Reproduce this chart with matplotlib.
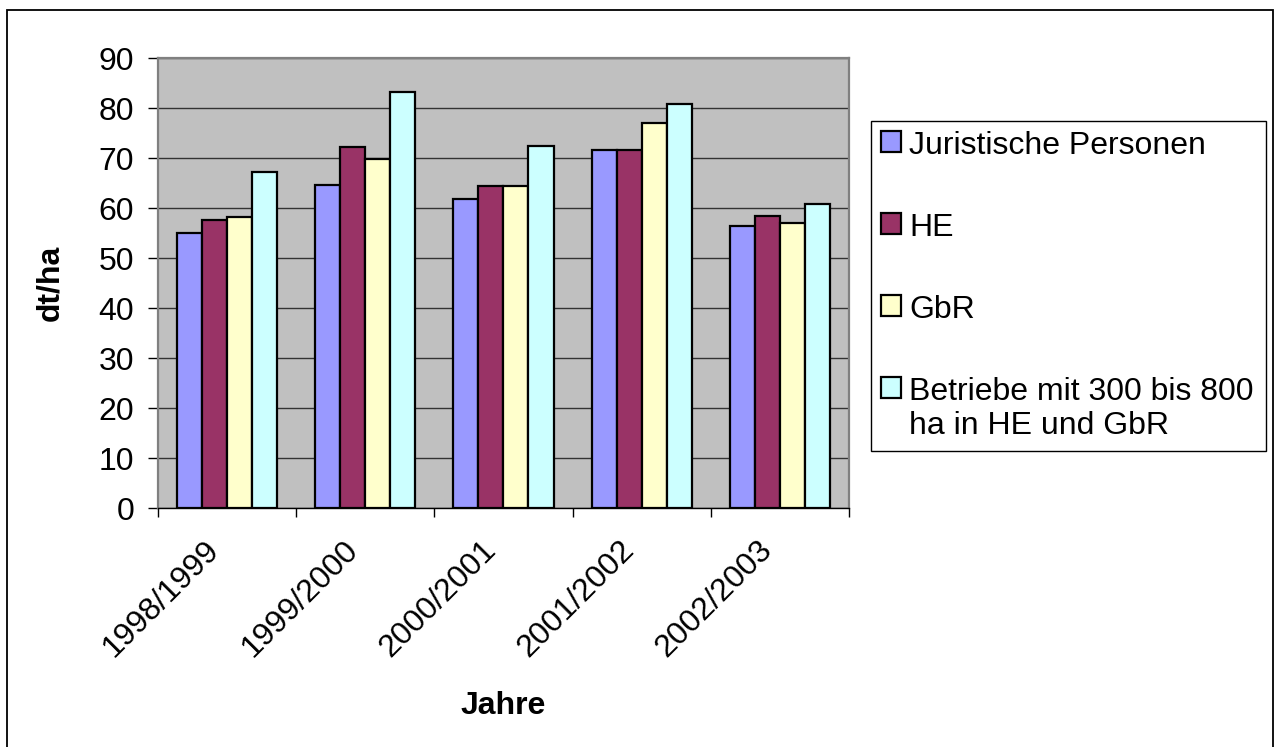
import numpy as np
import matplotlib

matplotlib.use("Agg")
import matplotlib.pyplot as plt
import matplotlib.patches as mpatches
from matplotlib.transforms import ScaledTranslation

plt.rcParams["font.family"] = ["Liberation Sans", "DejaVu Sans"]

# ── data ───────────────────────────────────────────────────────────────────
years = ["1998/1999", "1999/2000", "2000/2001", "2001/2002", "2002/2003"]
juristische = [55.0, 64.7, 61.9, 71.7, 56.5]
he = [57.7, 72.3, 64.5, 71.7, 58.5]
gbr = [58.2, 69.8, 64.5, 77.0, 57.1]
betriebe = [67.3, 83.3, 72.5, 80.9, 60.8]

series_labels = ["Juristische Personen", "HE", "GbR",
                 "Betriebe mit 300 bis 800\nha in HE und GbR"]
series_colors = ["#9999FF", "#993366", "#FFFFCC", "#CCFFFF"]
y_ticks = [0, 10, 20, 30, 40, 50, 60, 70, 80, 90]

FS = 23

# ── figure ─────────────────────────────────────────────────────────────────
fig = plt.figure(figsize=(12.79, 7.47), dpi=100)
ax = fig.add_axes([0.1235, 0.3195, 0.5403, 0.6025])
ax.set_facecolor("#C0C0C0")

bar_w = 0.181
centers = np.arange(len(years)) + 0.5
all_series = [juristische, he, gbr, betriebe]
for i, (vals, lab, col) in enumerate(zip(all_series, series_labels, series_colors)):
    ax.bar(centers + (i - 1.5) * bar_w, vals, width=bar_w, color=col,
           edgecolor="black", linewidth=1.6, label=lab, zorder=3)

ax.set_xlim(0, len(years))
ax.set_ylim(0, 90)
ax.set_yticks(y_ticks)
ax.yaxis.grid(True, color="#333333", linewidth=1.0, zorder=1)
ax.set_axisbelow(True)

# boundary tick marks, labels at group centres
ax.set_xticks(np.arange(len(years) + 1))
ax.set_xticklabels([])
ax.set_xticks(centers, minor=True)
ax.set_xticklabels(years, minor=True)
ax.tick_params(axis="x", which="major", length=6.5, width=1, direction="out", color="black")
ax.tick_params(axis="x", which="minor", length=0, pad=27, labelsize=FS)
ax.tick_params(axis="y", length=7, width=1, direction="out", color="black",
               pad=10, labelsize=FS)

offset = ScaledTranslation(-12 / 100, 0, fig.dpi_scale_trans)
for t in ax.get_xticklabels(minor=True):
    t.set_rotation(45)
    t.set_ha("right")
    t.set_va("center")
    t.set_rotation_mode("anchor")
    t.set_transform(t.get_transform() + offset)

for side in ("left", "top", "right"):
    ax.spines[side].set_color("#808080")
    ax.spines[side].set_linewidth(1.6)
ax.spines["bottom"].set_color("black")
ax.spines["bottom"].set_linewidth(1.0)

ax.set_ylabel("dt/ha", fontsize=FS, fontweight="bold")
ax.yaxis.set_label_coords(-0.1346, 0.5)
ax.set_xlabel("Jahre", fontsize=FS, fontweight="bold")
ax.xaxis.set_label_coords(0.5, -0.405)

# legend box on the right
leg = fig.legend(loc="upper left", bbox_to_anchor=(0.681, 0.400, 0.309, 0.438),
                 mode="expand", fontsize=FS, frameon=True, fancybox=False,
                 edgecolor="black", framealpha=1, borderpad=0.3,
                 labelspacing=1.63, handlelength=0.65, handleheight=0.65,
                 handletextpad=0.25, borderaxespad=0)
leg.get_frame().set_linewidth(1.0)
try:
    for col in leg._legend_handle_box.get_children():
        for row in col.get_children():
            row.align = "top"
except AttributeError:
    pass

# outer chart border
fig.add_artist(mpatches.Rectangle((7 / 1279, -0.01), 1266 / 1279, 0.996,
                                  transform=fig.transFigure, fill=False,
                                  edgecolor="black", linewidth=1.3))

fig.savefig("out.png", dpi=100, facecolor="white")
